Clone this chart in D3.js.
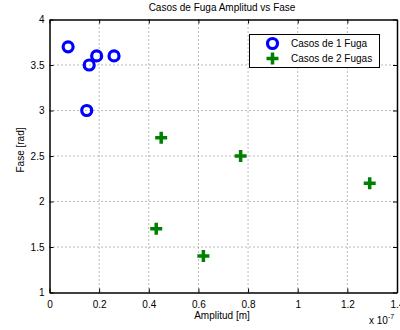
<!DOCTYPE html>
<html>
<head>
<meta charset="utf-8">
<script src="https://cdn.jsdelivr.net/npm/d3@7"></script>
<style>
  html, body { margin: 0; padding: 0; background: #fff; }
  svg { display: block; font-family: "Liberation Sans", Arial, sans-serif; }
  .grid line { stroke: #555; stroke-dasharray: 1,3; stroke-width: 0.8; }
</style>
</head>
<body>
<div id="chart"></div>
<script>
// values in units of 1e-7 m
const fuga1Amp = [0.075, 0.16, 0.19, 0.26, 0.15];
const fuga1Fase = [3.7, 3.5, 3.6, 3.6, 3.0];
const fuga2Amp = [0.45, 0.77, 1.29, 0.43, 0.62];
const fuga2Fase = [2.7, 2.5, 2.2, 1.7, 1.4];
const xTicks = [0, 0.2, 0.4, 0.6, 0.8, 1, 1.2, 1.4];
const yTicks = [1, 1.5, 2, 2.5, 3, 3.5, 4];
const legendLabels = ["Casos de 1 Fuga", "Casos de 2 Fugas"];

const width = 400, height = 330;
const margin = { left: 49.5, right: 3, top: 19.5, bottom: 37.5 };

const svg = d3.select("#chart").append("svg")
  .attr("width", width)
  .attr("height", height);

const x = d3.scaleLinear().domain([0, 1.4]).range([margin.left, width - margin.right]);
const y = d3.scaleLinear().domain([1, 4]).range([height - margin.bottom, margin.top]);

// grid
const grid = svg.append("g").attr("class", "grid");
grid.selectAll(".gx")
  .data(xTicks.slice(1, -1))
  .join("line")
  .attr("x1", d => x(d)).attr("x2", d => x(d))
  .attr("y1", y(1)).attr("y2", y(4));
grid.selectAll(".gy")
  .data(yTicks.slice(1, -1))
  .join("line")
  .attr("x1", x(0)).attr("x2", x(1.4))
  .attr("y1", d => y(d)).attr("y2", d => y(d));

// axes with inward ticks on all four sides
const fmt = d => d3.format("")(d);
const axB = svg.append("g").attr("transform", `translate(0,${y(1)})`)
  .call(d3.axisBottom(x).tickValues(xTicks).tickSizeInner(-4).tickSizeOuter(0).tickPadding(8).tickFormat(fmt));
const axT = svg.append("g").attr("transform", `translate(0,${y(4)})`)
  .call(d3.axisTop(x).tickValues(xTicks).tickSizeInner(-4).tickSizeOuter(0).tickFormat(""));
const axL = svg.append("g").attr("transform", `translate(${x(0)},0)`)
  .call(d3.axisLeft(y).tickValues(yTicks).tickSizeInner(-4).tickSizeOuter(0).tickPadding(5).tickFormat(fmt));
const axR = svg.append("g").attr("transform", `translate(${x(1.4)},0)`)
  .call(d3.axisRight(y).tickValues(yTicks).tickSizeInner(-4).tickSizeOuter(0).tickFormat(""));

[axB, axT, axL, axR].forEach(a => {
  a.select(".domain").attr("stroke", "#000").attr("stroke-width", 1.5);
  a.selectAll(".tick line").attr("stroke", "#000");
  a.selectAll("text").attr("fill", "#000").attr("font-size", 10)
    .attr("font-family", "Liberation Sans, Arial, sans-serif");
});
axL.selectAll("text").attr("dy", "0.32em");

// labels
svg.append("text")
  .attr("x", 222).attr("y", 11)
  .attr("text-anchor", "middle").attr("font-size", 10)
  .text("Casos de Fuga Amplitud vs Fase");
svg.append("text")
  .attr("x", 222).attr("y", 319)
  .attr("text-anchor", "middle").attr("font-size", 10)
  .text("Amplitud [m]");
svg.append("text")
  .attr("transform", "translate(24,150) rotate(-90)")
  .attr("text-anchor", "middle").attr("font-size", 10)
  .text("Fase [rad]");
const exp = svg.append("text").attr("x", 369).attr("y", 324).attr("font-size", 10);
exp.append("tspan").text("x 10");
exp.append("tspan").attr("dy", -5).attr("font-size", 7).text("-7");

// markers
const crossPath = s => {
  const a = s / 2;
  return `M${-a},0H${a}M0,${-a}V${a}`;
};

function drawCircle(g, cx, cy) {
  g.append("circle")
    .attr("cx", cx).attr("cy", cy).attr("r", 5)
    .attr("fill", "none").attr("stroke", "#0000ff").attr("stroke-width", 3.2);
}
function drawCross(g, cx, cy) {
  g.append("path")
    .attr("transform", `translate(${cx},${cy})`)
    .attr("d", crossPath(12))
    .attr("fill", "none").attr("stroke", "#008000").attr("stroke-width", 3.5);
}

const marks = svg.append("g");
fuga1Amp.forEach((a, i) => drawCircle(marks, x(a), y(fuga1Fase[i])));
fuga2Amp.forEach((a, i) => drawCross(marks, x(a), y(fuga2Fase[i])));

// legend
const lg = svg.append("g");
lg.append("rect")
  .attr("x", 249.5).attr("y", 34.5).attr("width", 130).attr("height", 33)
  .attr("fill", "#fff").attr("stroke", "#000").attr("stroke-width", 1);
drawCircle(lg, 272.5, 43.5);
drawCross(lg, 272.5, 58.5);
legendLabels.forEach((t, i) => {
  lg.append("text")
    .attr("x", 291).attr("y", 47 + i * 15)
    .attr("font-size", 10)
    .text(t);
});
</script>
</body>
</html>
